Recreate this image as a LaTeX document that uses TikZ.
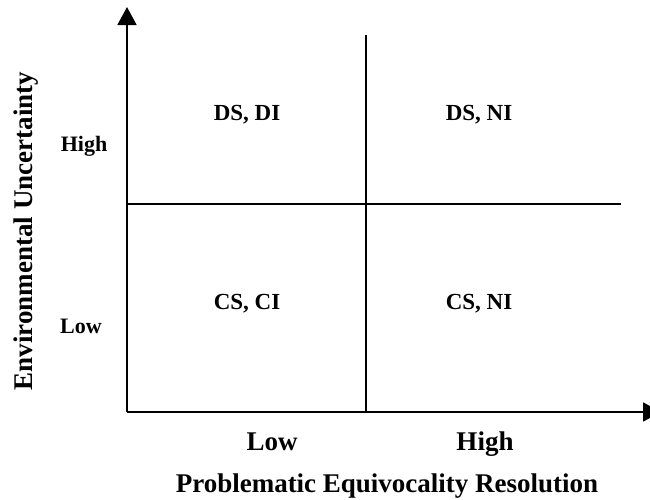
\documentclass[tikz,border=0pt]{standalone}
\usepackage{fontspec}
\setmainfont{Liberation Serif}
\usetikzlibrary{arrows.meta}
\begin{document}
\begin{tikzpicture}[x=1pt,y=-1pt,
  axisline/.style={line width=1.8pt,-{Triangle[length=18pt,width=19pt]}},
  gridline/.style={line width=1.8pt},
  cell/.style={font=\fontsize{23}{26}\selectfont\bfseries,anchor=base,inner sep=0pt},
  ylev/.style={font=\fontsize{22}{25}\selectfont\bfseries,anchor=base,inner sep=0pt},
  xlev/.style={font=\fontsize{27}{30}\selectfont\bfseries,anchor=base,inner sep=0pt},
  title/.style={font=\fontsize{27}{30}\selectfont\bfseries,inner sep=0pt}]
\useasboundingbox (0,0) rectangle (650,499);
\coordinate (O) at (127,412);
\coordinate (ytip) at (127,7);
\coordinate (xtip) at (661,412);
\coordinate (vtop) at (366,35);
\coordinate (vbot) at (366,412);
\coordinate (hl) at (127,204);
\coordinate (hr) at (621,204);
\draw[axisline] (O) -- (ytip);
\draw[axisline] (O) -- (xtip);
\draw[gridline] (vtop) -- (vbot);
\draw[gridline] (hl) -- (hr);
\node[cell] (dsdi) at (247,120) {DS, DI};
\node[cell] (dsni) at (479,120) {DS, NI};
\node[cell] (csci) at (247,309) {CS, CI};
\node[cell] (csni) at (479,309) {CS, NI};
\node[ylev] (yhigh) at (84,151) {High};
\node[ylev] (ylow) at (81,333) {Low};
\node[xlev] (xlow) at (272,450) {Low};
\node[xlev] (xhigh) at (485,450) {High};
\node[title,anchor=base] (xtitle) at (387,492) {Problematic Equivocality Resolution};
\node[title,rotate=90] (ytitle) at (26,231) {Environmental Uncertainty};
\end{tikzpicture}
\end{document}
